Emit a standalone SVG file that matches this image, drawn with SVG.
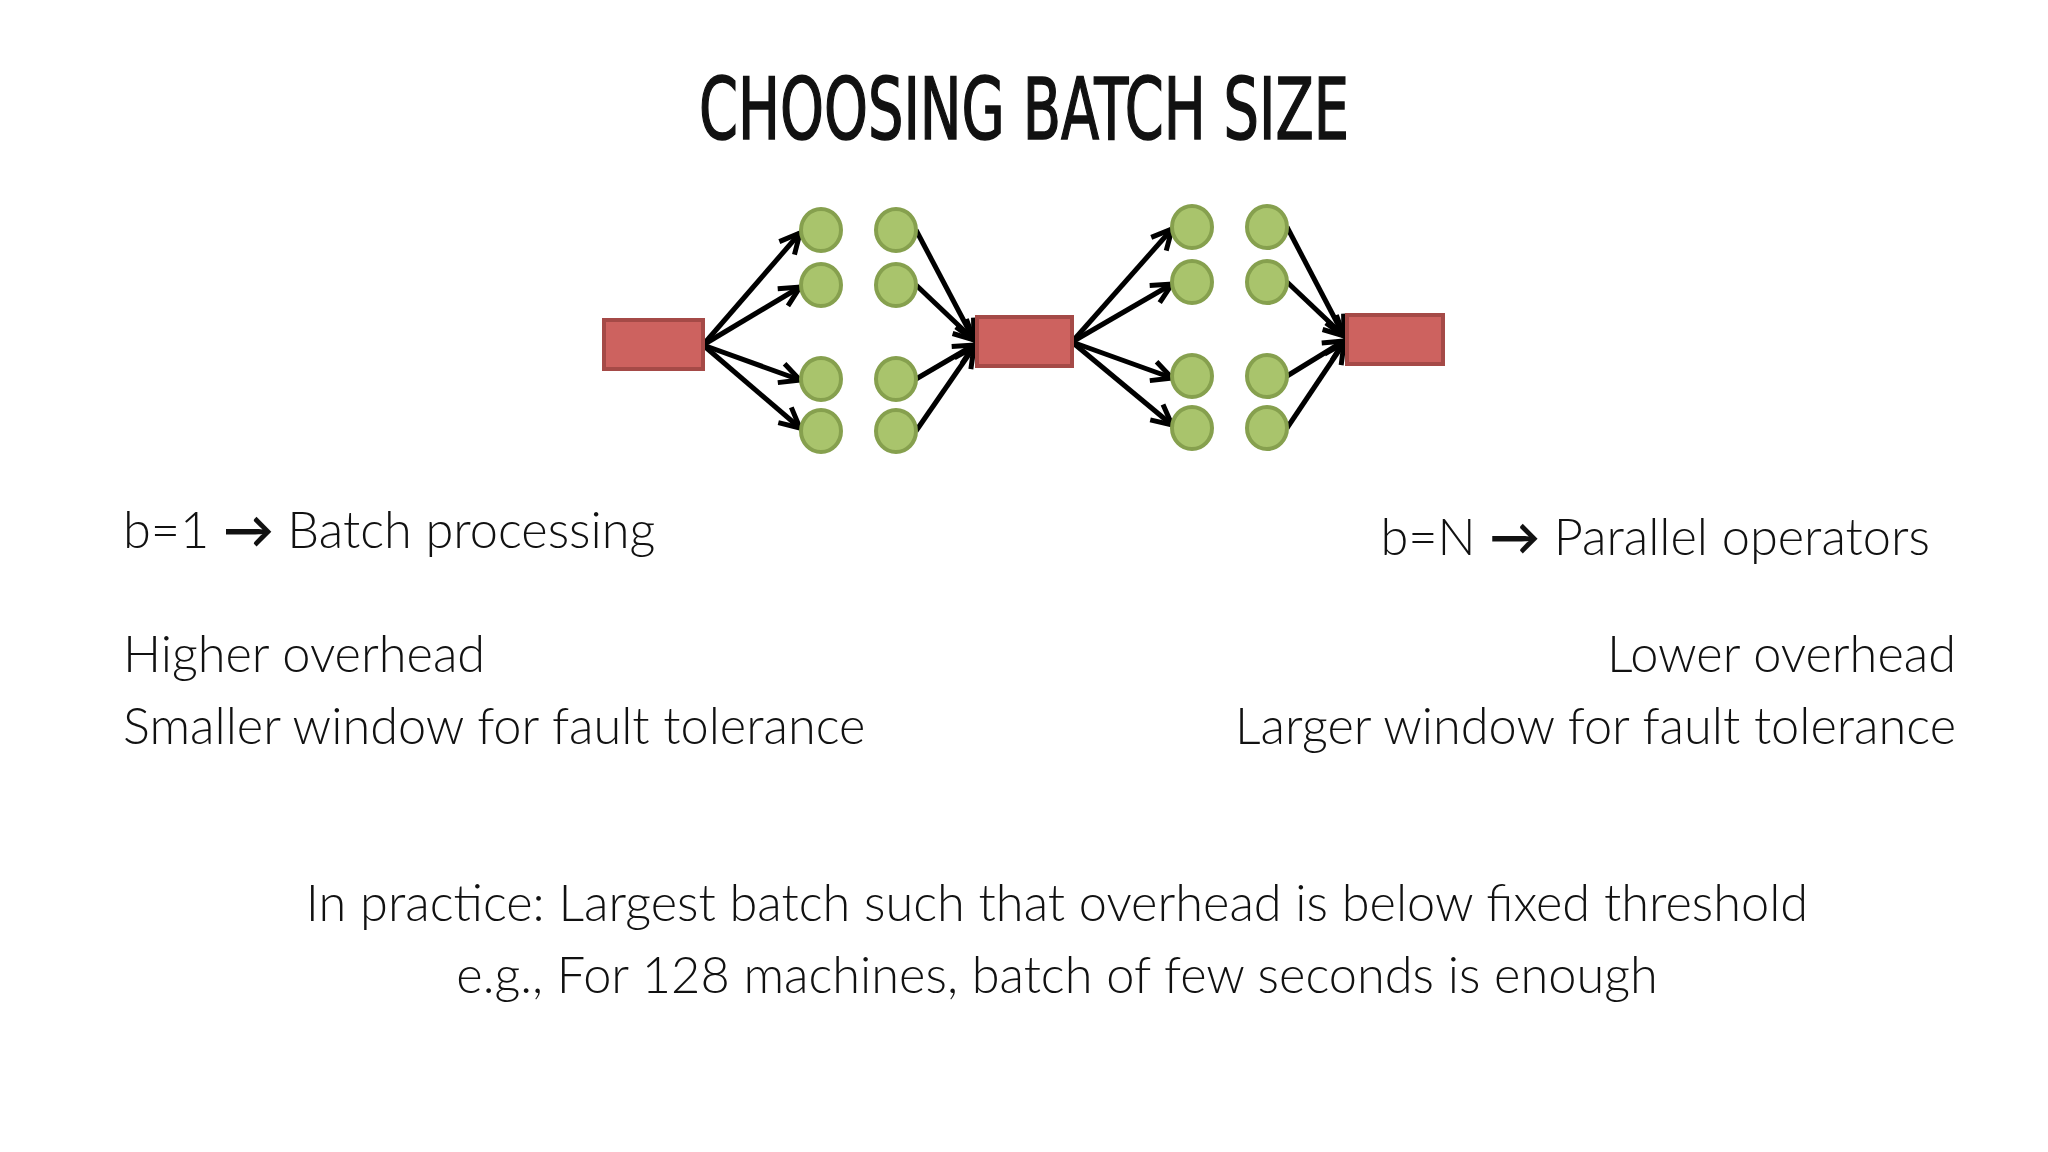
<svg xmlns="http://www.w3.org/2000/svg" width="2048" height="1152" viewBox="0 0 2048 1152">
<defs>
<marker id="ah" viewBox="0 0 10 10" refX="9" refY="5" markerWidth="5" markerHeight="5" orient="auto" markerUnits="strokeWidth"><path d="M1,1 L9,5 L1,9" fill="none" stroke="#000" stroke-width="2"/></marker>
<style>
.r{fill:#cd625f;stroke:#a54a47;stroke-width:4}
.c{fill:#a9c46c;stroke:#86a04e;stroke-width:4}
.l{stroke:#000;stroke-width:5;fill:none;marker-end:url(#ah)}
.t{font-family:Lato,"Open Sans","Liberation Sans",sans-serif;font-weight:300;font-size:50.5px;fill:#111}
</style>
</defs>
<rect width="2048" height="1152" fill="#fff"/>
<text x="1024" y="139" text-anchor="middle" font-family="'DejaVu Sans Condensed','Liberation Sans',sans-serif" font-size="86" textLength="650" lengthAdjust="spacingAndGlyphs" fill="#111" stroke="#111" stroke-width="1.5">CHOOSING BATCH SIZE</text>
<g id="connectors">
<path class="l" d="M703,345 L800,233"/><path class="l" d="M703,345 L800,287"/><path class="l" d="M703,345 L800,380"/><path class="l" d="M703,345 L800,428"/>
<path class="l" d="M916,230 L974,340"/><path class="l" d="M916,285 L974,340"/><path class="l" d="M916,379 L974,345"/><path class="l" d="M916,431 L974,347"/>
<path class="l" d="M1072,342 L1172,229"/><path class="l" d="M1072,342 L1172,284"/><path class="l" d="M1072,342 L1172,378"/><path class="l" d="M1072,342 L1172,425"/>
<path class="l" d="M1287,227 L1344,336"/><path class="l" d="M1287,282 L1344,336"/><path class="l" d="M1287,376 L1344,341"/><path class="l" d="M1287,428 L1344,343"/>
</g>
<g id="src"><rect class="r" x="604" y="320" width="99" height="49"/></g>
<g id="mid"><rect class="r" x="977" y="317" width="95" height="49"/></g>
<g id="dst"><rect class="r" x="1347" y="315" width="96" height="49"/></g>
<g id="circles1">
<ellipse class="c" cx="821" cy="230" rx="20" ry="21"/><ellipse class="c" cx="821" cy="285" rx="20" ry="21"/><ellipse class="c" cx="821" cy="379" rx="20" ry="21"/><ellipse class="c" cx="821" cy="431" rx="20" ry="21"/>
<ellipse class="c" cx="896" cy="230" rx="20" ry="21"/><ellipse class="c" cx="896" cy="285" rx="20" ry="21"/><ellipse class="c" cx="896" cy="379" rx="20" ry="21"/><ellipse class="c" cx="896" cy="431" rx="20" ry="21"/>
</g>
<g id="circles2">
<ellipse class="c" cx="1192" cy="227" rx="20" ry="21"/><ellipse class="c" cx="1192" cy="282" rx="20" ry="21"/><ellipse class="c" cx="1192" cy="376" rx="20" ry="21"/><ellipse class="c" cx="1192" cy="428" rx="20" ry="21"/>
<ellipse class="c" cx="1267" cy="227" rx="20" ry="21"/><ellipse class="c" cx="1267" cy="282" rx="20" ry="21"/><ellipse class="c" cx="1267" cy="376" rx="20" ry="21"/><ellipse class="c" cx="1267" cy="428" rx="20" ry="21"/>
</g>
<text class="t" x="123" y="548">b=1 <tspan font-weight="700">→</tspan> Batch processing</text>
<text class="t" x="1930" y="555" text-anchor="end">b=N <tspan font-weight="700">→</tspan> Parallel operators</text>
<text class="t" x="123" y="672">Higher overhead</text>
<text class="t" x="123" y="744">Smaller window for fault tolerance</text>
<text class="t" x="1956" y="672" text-anchor="end">Lower overhead</text>
<text class="t" x="1956" y="744" text-anchor="end">Larger window for fault tolerance</text>
<text class="t" x="1057" y="921" text-anchor="middle">In practice: Largest batch such that overhead is below fixed threshold</text>
<text class="t" x="1057" y="993" text-anchor="middle">e.g., For 128 machines, batch of few seconds is enough</text>
</svg>
